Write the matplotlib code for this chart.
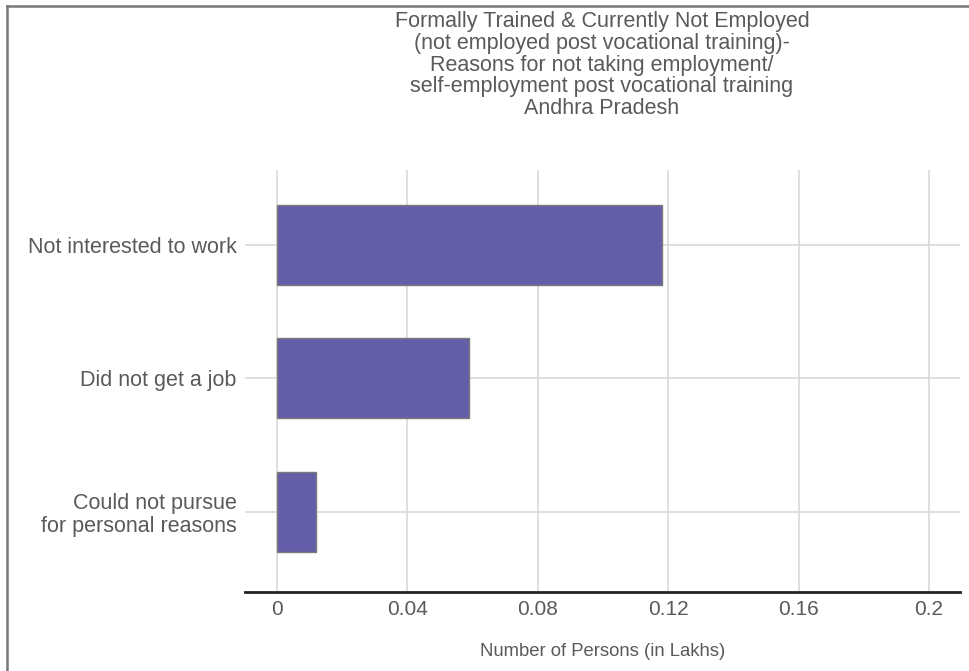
import matplotlib.pyplot as plt
from matplotlib.lines import Line2D

plt.rcParams["font.family"] = ["Liberation Sans", "DejaVu Sans"]

reasons = ["Not interested to work", "Did not get a job", "Could not pursue\nfor personal reasons"]
persons = [0.118, 0.059, 0.012]
xticks = [0, 0.04, 0.08, 0.12, 0.16, 0.2]
xtick_labels = ["0", "0.04", "0.08", "0.12", "0.16", "0.2"]

text_color = "#5a5a5a"
W, H = 969, 671

fig = plt.figure(figsize=(9.69, 6.71), dpi=100)
ax = fig.add_axes([245 / W, 1 - 592 / H, (960 - 245) / W, (592 - 170) / H])

ypos = list(range(len(reasons)))
ax.barh(ypos, persons, height=0.6, color="#645ea8", edgecolor="#7a7a7a", linewidth=1, zorder=3)

ax.set_xlim(-0.0098, 0.2095)
ax.set_ylim(2.6, -0.56)
ax.set_xticks(xticks)
ax.set_xticklabels(xtick_labels)
ax.set_yticks(ypos)
ax.set_yticklabels(reasons)
ax.grid(True, color="#d9d9d9", linewidth=1.2, zorder=0)

for s in ["top", "right", "left"]:
    ax.spines[s].set_visible(False)
ax.spines["bottom"].set_color("#222222")
ax.spines["bottom"].set_linewidth(2)

ax.tick_params(axis="x", length=0, pad=6, labelsize=15, labelcolor=text_color)
ax.tick_params(axis="y", length=0, pad=6, labelsize=15.5, labelcolor=text_color)
for lbl in ax.get_yticklabels():
    lbl.set_linespacing(1.1)

fig.text(603 / W, 1 - 652 / H, "Number of Persons (in Lakhs)", ha="center", va="center",
         fontsize=13.3, color=text_color)

title = ("Formally Trained & Currently Not Employed\n"
         "(not employed post vocational training)-\n"
         "Reasons for not taking employment/\n"
         "self-employment post vocational training\n"
         "Andhra Pradesh")
fig.text(602 / W, 1 - 11 / H, title, ha="center", va="top", fontsize=15.5,
         color=text_color, linespacing=1.05)

# outer frame (top and left edges only)
fig.lines.append(Line2D([7 / W, 7 / W], [0, 1 - 6 / H], transform=fig.transFigure,
                        color="#777777", linewidth=1.8))
fig.lines.append(Line2D([7 / W, 1], [1 - 6 / H, 1 - 6 / H], transform=fig.transFigure,
                        color="#777777", linewidth=1.8))

fig.savefig("out.png", dpi=100)
